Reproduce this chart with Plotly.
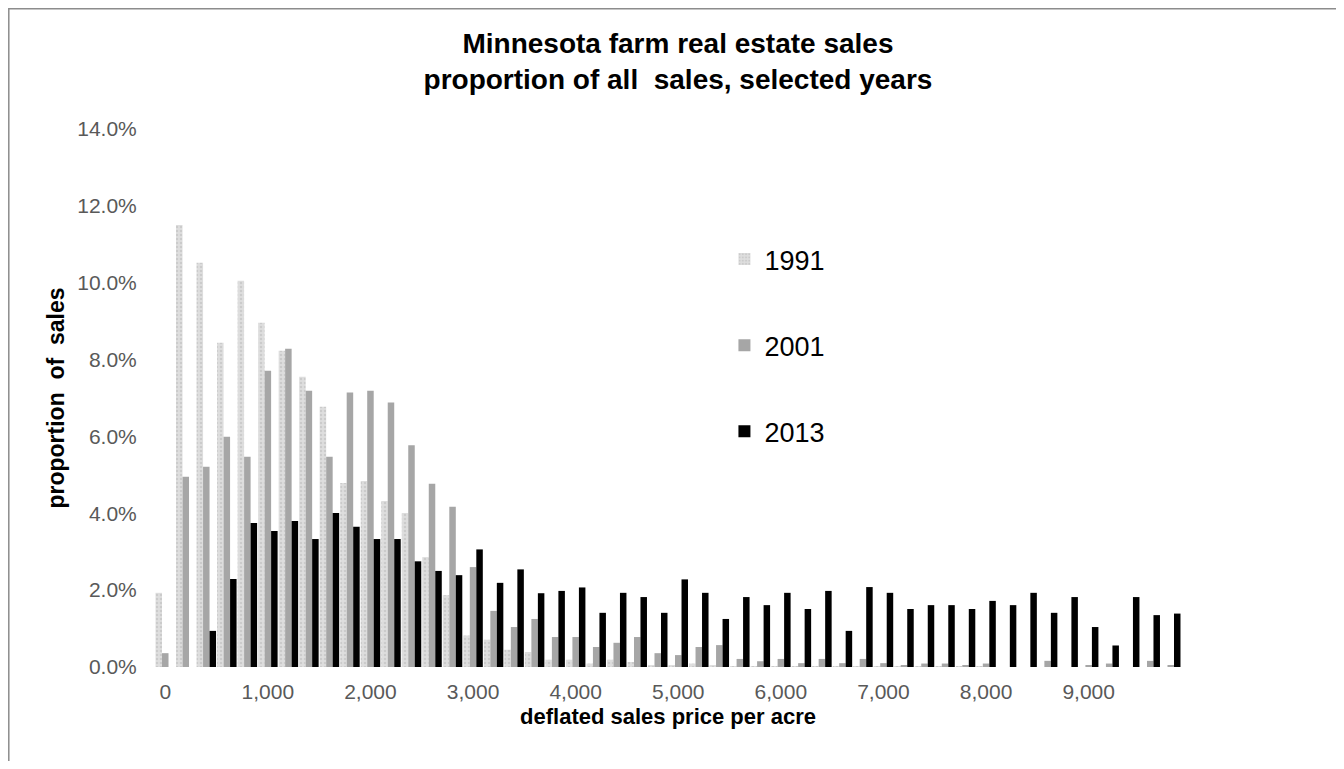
import plotly.graph_objects as go

# price bins, step 200 ($/acre, deflated)
price_bins = list(range(0, 10000, 200))

share_1991 = [1.93, 11.50, 10.52, 8.44, 10.05, 8.96, 8.23, 7.55, 6.77, 4.79,
              4.84, 4.32, 4.01, 2.86, 1.87, 0.82, 0.71, 0.45, 0.39, 0.19,
              0.19, 0.09, 0.19, 0.13, 0.05, 0.03, 0.09, 0.03, 0.02, 0.02,
              0.02, 0.02, 0.02, 0.02, 0.02, 0.02, 0.02, 0.01, 0.01, 0.02,
              0.01, 0.0, 0.0, 0.0, 0.0, 0.0, 0.0, 0.0, 0.0, 0.0]

share_2001 = [0.36, 4.95, 5.21, 5.99, 5.47, 7.71, 8.28, 7.19, 5.47, 7.14,
              7.19, 6.88, 5.77, 4.77, 4.17, 2.60, 1.46, 1.04, 1.25, 0.78,
              0.78, 0.52, 0.63, 0.78, 0.36, 0.31, 0.52, 0.57, 0.21, 0.15,
              0.21, 0.10, 0.21, 0.10, 0.21, 0.10, 0.05, 0.09, 0.09, 0.03,
              0.09, 0.0, 0.0, 0.16, 0.0, 0.03, 0.09, 0.0, 0.16, 0.03]

share_2013 = [0.0, 0.0, 0.94, 2.29, 3.75, 3.54, 3.80, 3.33, 4.01, 3.65,
              3.33, 3.33, 2.75, 2.50, 2.39, 3.06, 2.19, 2.54, 1.92, 1.98,
              2.07, 1.41, 1.93, 1.82, 1.41, 2.28, 1.93, 1.25, 1.82, 1.61,
              1.93, 1.51, 1.98, 0.94, 2.08, 1.93, 1.51, 1.61, 1.61, 1.51,
              1.72, 1.61, 1.93, 1.41, 1.82, 1.04, 0.56, 1.82, 1.35, 1.39]

tick_vals = list(range(0, 10000, 1000))
tick_text = ['{:,}'.format(v) for v in tick_vals]

font_name = 'Liberation Sans, Arial, sans-serif'

fig = go.Figure()

fig.add_trace(go.Bar(x=price_bins,
                     y=[v / 100 for v in share_1991],
                     name='1991', legendgroup='a',
                     marker=dict(color='#dedede',
                                 line=dict(width=0),
                                 pattern=dict(shape='.', fillmode='overlay',
                                              fgcolor='#b8b8b8', size=4,
                                              solidity=0.35))))

fig.add_trace(go.Bar(x=price_bins,
                     y=[v / 100 for v in share_2001],
                     name='2001', legendgroup='b',
                     marker=dict(color='#a6a6a6', line=dict(width=0))))

fig.add_trace(go.Bar(x=price_bins,
                     y=[v / 100 for v in share_2013],
                     name='2013', legendgroup='c',
                     marker=dict(color='#000000', line=dict(width=0))))

# page body has an 8px margin, so the figure is 16px smaller than the window
fig.update_layout(
    width=1328, height=753,
    margin=dict(l=147, r=155, t=121, b=94),
    paper_bgcolor='white', plot_bgcolor='white',
    barmode='group', bargap=0.05, bargroupgap=0,
    font=dict(family=font_name, color='#595959'),
    title=dict(text='<b>Minnesota farm real estate sales<br>proportion of all  sales, selected years</b>',
               x=0.5045, xanchor='center', y=0.9402, yanchor='middle',
               font=dict(size=28, color='#000000', family=font_name)),
    legend=dict(x=0.555, xanchor='left', y=0.803, yanchor='top',
                font=dict(size=27, color='#000000'),
                tracegroupgap=48, bgcolor='rgba(0,0,0,0)'),
    showlegend=True,
)

fig.update_xaxes(range=[-100, 9900],
                 tickvals=tick_vals, ticktext=tick_text,
                 tickfont=dict(size=21, color='#595959'),
                 ticks='outside', ticklen=6, tickcolor='rgba(0,0,0,0)',
                 showgrid=False, zeroline=False, showline=False,
                 title=dict(text='<b>deflated sales price per acre</b>',
                            font=dict(size=22, color='#000000'),
                            standoff=6))

fig.update_yaxes(range=[0, 0.14], dtick=0.02, tickformat='.1%',
                 tickfont=dict(size=21, color='#595959'),
                 ticks='outside', ticklen=13, tickcolor='rgba(0,0,0,0)',
                 showgrid=False, zeroline=False, showline=False,
                 title=dict(text='<b>proportion  of  sales</b>',
                            font=dict(size=23, color='#000000'),
                            standoff=6))

# chart area border (left and top edges visible in the original)
fig.add_shape(type='rect', xref='paper', yref='paper',
              x0=-0.1425, x1=1.2, y0=-0.3, y1=1.2235,
              line=dict(color='#8c8c8c', width=1.5), layer='below')

fig.write_html('out.html')
